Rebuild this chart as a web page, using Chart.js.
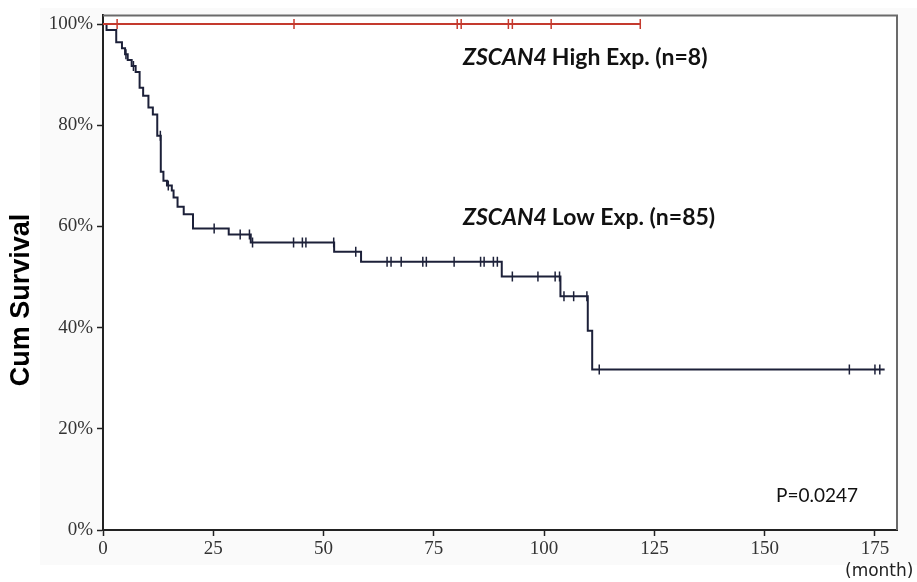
<!DOCTYPE html>
<html>
<head>
<meta charset="utf-8">
<script src="https://cdn.jsdelivr.net/npm/chart.js@4.4.1/dist/chart.umd.min.js"></script>
<style>
  html, body { margin: 0; padding: 0; background: #fff; }
  #wrap { width: 917px; height: 582px; }
</style>
</head>
<body>
<div id="wrap"><canvas id="kmChart" width="917" height="582"></canvas></div>
<script>
// Kaplan-Meier: low expression group (n=85), step points [month, cum survival %]
const lowTimes    = [0, 0.8, 3.0, 4.3, 5.0, 5.6, 6.5, 7.4, 8.3, 9.1, 10.3, 11.3, 12.3, 13.1, 13.7, 14.5, 15.6, 16.0, 16.9, 18.3, 20.4, 28.5, 33.5, 52.4, 58.5, 90.4, 103.7, 109.9, 110.9, 177.2];
const lowSurvival = [100, 98.8, 96.4, 95.2, 94.0, 92.9, 91.7, 90.5, 87.4, 85.8, 83.5, 82.1, 77.9, 70.8, 69.0, 68.1, 67.1, 65.7, 63.9, 62.4, 59.6, 58.4, 56.8, 55.0, 53.0, 50.1, 46.2, 39.4, 31.7, 31.7];

// censored cases, low group
const lowCensorTimes    = [5.2, 6.9, 13.0, 14.8, 25.2, 31.1, 33.2, 33.9, 43.2, 45.2, 46.0, 52.3, 57.3, 64.4, 65.3, 67.6, 72.5, 73.3, 79.6, 85.6, 86.4, 88.5, 89.4, 92.8, 98.6, 102.5, 103.5, 104.5, 106.7, 109.7, 112.5, 169.2, 175.0, 176.1];
const lowCensorSurvival = [94.0, 91.7, 77.9, 68.1, 59.6, 58.4, 58.4, 56.8, 56.8, 56.8, 56.8, 56.8, 55.0, 53.0, 53.0, 53.0, 53.0, 53.0, 53.0, 53.0, 53.0, 53.0, 53.0, 50.1, 50.1, 50.1, 50.1, 46.2, 46.2, 46.2, 31.7, 31.7, 31.7, 31.7];

// high expression group (n=8): no events, all censored
const highTimes    = [0, 121.8];
const highSurvival = [100, 100];
const highCensorTimes = [3.2, 43.3, 80.3, 81.2, 91.9, 92.8, 101.6, 121.8];
const highCensorSurvival = [100, 100, 100, 100, 100, 100, 100, 100];

const xTicks = [0, 25, 50, 75, 100, 125, 150, 175];
const yTicks = [0, 20, 40, 60, 80, 100];

const toPts = (xs, ys) => xs.map((x, i) => ({ x: x, y: ys[i] }));

const navy = '#1c2039';
const red = '#c43a2e';

const decorPlugin = {
  id: 'decor',
  beforeDraw(chart) {
    const ctx = chart.ctx;
    const a = chart.chartArea;
    ctx.save();
    ctx.fillStyle = '#fafafa';
    ctx.fillRect(40, 8, 877, 557);
    ctx.fillStyle = '#ffffff';
    ctx.fillRect(a.left, a.top, a.right - a.left, a.bottom - a.top);
    ctx.restore();
  },
  afterDraw(chart) {
    const ctx = chart.ctx;
    const a = chart.chartArea;
    ctx.save();
    // top / right frame
    ctx.strokeStyle = '#6a6a6a';
    ctx.lineWidth = 2;
    ctx.beginPath();
    ctx.moveTo(a.left, a.top);
    ctx.lineTo(a.right, a.top);
    ctx.lineTo(a.right, a.bottom);
    ctx.stroke();

    // y axis title
    ctx.fillStyle = '#000';
    ctx.font = 'bold 27px "Liberation Sans", Arial, sans-serif';
    ctx.textAlign = 'center';
    ctx.textBaseline = 'middle';
    ctx.translate(22, 300);
    ctx.rotate(-Math.PI / 2);
    ctx.fillText('Cum Survival', 0, 0);
    ctx.setTransform(1, 0, 0, 1, 0, 0);

    // (month)
    ctx.font = '17px "DejaVu Sans", sans-serif';
    ctx.fillStyle = '#222';
    ctx.textAlign = 'left';
    ctx.fillText('(month)', 845, 572);

    // group labels
    const drawLabel = (x, y, rest) => {
      ctx.textAlign = 'left';
      ctx.fillStyle = '#111';
      ctx.font = 'italic bold 23px Lato, "Open Sans", sans-serif';
      ctx.fillText('ZSCAN4', x, y);
      const w = ctx.measureText('ZSCAN4 ').width;
      ctx.font = 'bold 23px Lato, "Open Sans", sans-serif';
      ctx.fillText(rest, x + w, y);
    };
    drawLabel(463, 58, 'High Exp. (n=8)');
    drawLabel(463, 218, 'Low Exp. (n=85)');

    ctx.font = '19px Lato, "Open Sans", sans-serif';
    ctx.fillStyle = '#111';
    ctx.fillText('P=0.0247', 776, 496);
    ctx.restore();
  }
};

const ctx = document.getElementById('kmChart').getContext('2d');

new Chart(ctx, {
  type: 'line',
  data: {
    datasets: [
      {
        label: 'High',
        data: toPts(highTimes, highSurvival),
        borderColor: red,
        borderWidth: 1.8,
        pointRadius: 0,
        stepped: true
      },
      {
        label: 'High censored',
        type: 'scatter',
        data: toPts(highCensorTimes, highCensorSurvival),
        pointStyle: 'line',
        rotation: 90,
        radius: 5,
        borderColor: red,
        borderWidth: 1.5,
        showLine: false
      },
      {
        label: 'Low',
        data: toPts(lowTimes, lowSurvival),
        borderColor: navy,
        borderWidth: 2,
        pointRadius: 0,
        stepped: true
      },
      {
        label: 'Low censored',
        type: 'scatter',
        data: toPts(lowCensorTimes, lowCensorSurvival),
        pointStyle: 'line',
        rotation: 90,
        radius: 5,
        borderColor: navy,
        borderWidth: 1.5,
        showLine: false
      }
    ]
  },
  options: {
    responsive: false,
    animation: false,
    layout: { padding: { left: 0, top: 14, right: 20, bottom: 0 } },
    plugins: {
      legend: { display: false },
      tooltip: { enabled: false }
    },
    scales: {
      x: {
        type: 'linear',
        min: 0,
        max: 180,
        afterBuildTicks: (scale) => { scale.ticks = xTicks.map(v => ({ value: v })); },
        afterFit: (scale) => { scale.height = 52; },
        grid: { drawOnChartArea: false, drawTicks: true, tickLength: 6, tickColor: '#222', tickWidth: 1.5 },
        border: { color: '#222', width: 2 },
        ticks: {
          color: '#333',
          padding: 2,
          maxRotation: 0,
          font: { family: '"Liberation Serif", "Times New Roman", serif', size: 19 }
        }
      },
      y: {
        min: 0,
        max: 101.7,
        afterBuildTicks: (scale) => { scale.ticks = yTicks.map(v => ({ value: v })); },
        afterFit: (scale) => { scale.width = 103; },
        grid: { drawOnChartArea: false, drawTicks: true, tickLength: 6, tickColor: '#222', tickWidth: 1.5 },
        border: { color: '#222', width: 2 },
        ticks: {
          color: '#333',
          padding: 4,
          callback: (v) => v + '%',
          font: { family: '"Liberation Serif", "Times New Roman", serif', size: 19 }
        }
      }
    }
  },
  plugins: [decorPlugin]
});
</script>
</body>
</html>
